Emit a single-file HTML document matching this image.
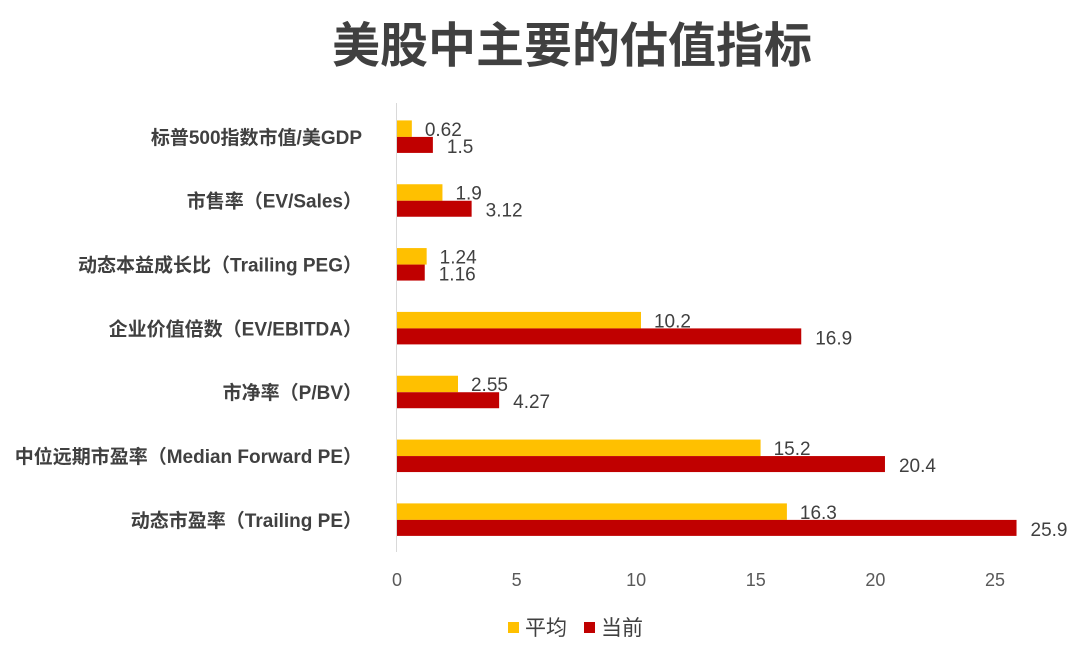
<!DOCTYPE html>
<html><head><meta charset="utf-8"><style>
body{margin:0;background:#fff;width:1080px;height:656px;overflow:hidden;font-family:"Liberation Sans","Noto Sans CJK SC",sans-serif}
</style></head><body>
<svg id="c" width="1080" height="656" font-family="Liberation Sans, Noto Sans CJK SC, sans-serif">
<text x="572" y="62" text-anchor="middle" font-size="48" font-weight="bold" fill="#404040">美股中主要的估值指标</text>
<g id="plot"></g>
<g>
<rect x="508" y="622" width="11" height="11" fill="#FFC000"/>
<text x="525" y="635" font-size="21" fill="#404040">平均</text>
<rect x="584" y="622" width="11" height="11" fill="#C00000"/>
<text x="601" y="635" font-size="21" fill="#404040">当前</text>
</g>
</svg>
<script>
const categories=["标普500指数市值/美GDP","市售率（EV/Sales）","动态本益成长比（Trailing PEG）","企业价值倍数（EV/EBITDA）","市净率（P/BV）","中位远期市盈率（Median Forward PE）","动态市盈率（Trailing PE）"];
const averageValues=[0.62,1.9,1.24,10.2,2.55,15.2,16.3];
const currentValues=[1.5,3.12,1.16,16.9,4.27,20.4,25.9];
const ticks=[0,5,10,15,20,25];
const NS="http://www.w3.org/2000/svg";
const g=document.getElementById('plot');
const x0=397,xs=(995-397)/25,plotTop=105,band=63.83;
const xv=v=>x0+v*xs;
const yc=i=>plotTop+band*i+band/2;
function el(t,a,txt){const e=document.createElementNS(NS,t);for(const k in a)e.setAttribute(k,a[k]);if(txt!=null)e.textContent=txt;g.appendChild(e);return e;}
const ax=el('line',{x1:396.5,x2:396.5,y1:103,y2:552,stroke:'#d9d9d9','stroke-width':1});


ticks.forEach(t=>{const e=el('text',{x:xv(t),y:586,'text-anchor':'middle','font-size':18,fill:'#595959'},t);

});
categories.forEach((c,i)=>{
const cy=yc(i);
const l=el('text',{x:362,y:cy+7,'text-anchor':'end','font-size':19,'font-weight':'bold',fill:'#404040'},c);


const a=el('rect',{x:x0,y:cy-16.5,width:averageValues[i]*xs,height:16.5,fill:'#FFC000'});


const r=el('rect',{x:x0,y:cy,width:currentValues[i]*xs,height:16,fill:'#C00000'});


const la=el('text',{x:xv(averageValues[i])+13,y:cy-1,'font-size':19,fill:'#404040'},averageValues[i]);


const lr=el('text',{x:xv(currentValues[i])+14,y:cy+16,'font-size':19,fill:'#404040'},currentValues[i]);


});
</script>
</body></html>
